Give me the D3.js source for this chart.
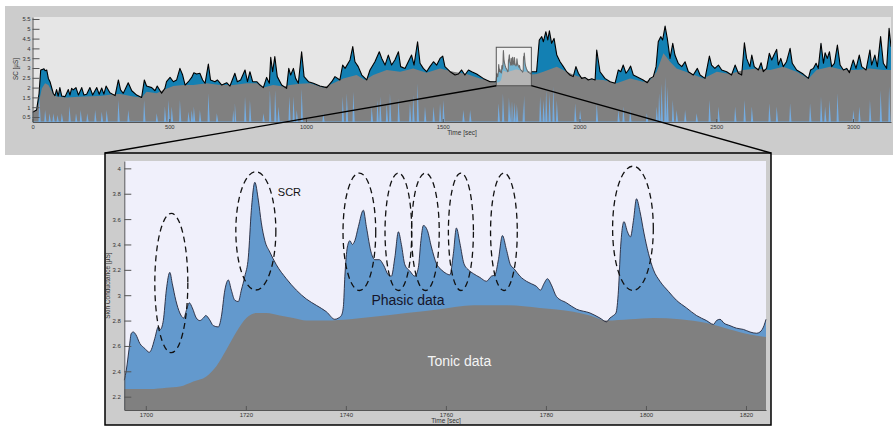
<!DOCTYPE html>
<html><head><meta charset="utf-8">
<script src="https://cdn.jsdelivr.net/npm/d3@7/dist/d3.min.js"></script>
<style>body{margin:0;background:#fff;} svg{display:block;font-family:"Liberation Sans",Arial,sans-serif;}</style>
</head><body><svg id="c" width="893" height="426"></svg>
<script>
// ---------- DATA ----------
// Overview: total skin conductance [time sec, µS]
const ovTotal = [[0,0.74],[15,0.86],[24,1.7],[30,2.9],[37,2.93],[42,2.96],[46,2.86],[52,2.9],[58,2.47],[64,2.3],[76,1.7],[82,1.59],[88,1.9],[94,1.57],[100,2.0],[107,1.57],[119,1.54],[131,1.9],[137,1.62],[143,1.96],[149,1.88],[159,2.0],[168,1.62],[180,2.0],[188,1.62],[198,1.66],[210,2.0],[220,1.62],[235,2.0],[244,1.66],[253,1.98],[261,1.67],[269,2.08],[283,1.74],[302,1.59],[314,2.39],[322,1.88],[332,1.71],[350,2.25],[363,1.84],[381,1.62],[399,1.5],[409,2.39],[417,2.08],[436,2.0],[448,1.84],[456,2.08],[472,1.71],[484,1.96],[490,2.3],[503,2.52],[515,2.3],[527,2.39],[539,2.98],[549,2.64],[558,2.13],[570,2.3],[582,2.52],[590,2.76],[600,2.69],[612,2.73],[622,2.39],[631,2.22],[643,3.2],[651,2.39],[667,2.3],[676,2.39],[692,2.13],[710,2.25],[722,2.08],[740,2.73],[749,2.3],[761,2.39],[777,2.9],[786,2.3],[795,2.81],[805,2.3],[820,2.3],[832,2.13],[844,2.0],[856,2.52],[866,2.22],[871,3.54],[878,2.81],[886,3.58],[895,2.56],[911,2.13],[929,1.96],[937,2.98],[944,2.64],[954,2.98],[962,2.47],[972,2.22],[984,3.83],[993,2.56],[1009,2.3],[1027,2.22],[1051,2.08],[1076,2.0],[1094,2.3],[1106,2.56],[1124,2.39],[1134,3.15],[1143,2.98],[1161,3.41],[1171,4.09],[1179,3.32],[1191,3.07],[1204,2.64],[1222,2.39],[1234,2.9],[1252,3.32],[1268,3.83],[1277,3.49],[1289,3.15],[1301,3.66],[1313,3.15],[1325,3.41],[1338,3.83],[1346,3.07],[1362,2.98],[1374,3.32],[1386,3.66],[1395,3.15],[1408,4.34],[1417,3.24],[1429,2.98],[1441,2.81],[1453,3.07],[1466,3.32],[1478,3.15],[1490,3.49],[1500,3.61],[1508,3.07],[1527,2.81],[1545,2.64],[1557,2.69],[1569,2.9],[1581,2.64],[1594,2.9],[1606,2.81],[1624,2.69],[1648,2.47],[1673,2.3],[1691,2.3],
[1843,2.81],[1853,4.43],[1862,4.6],[1868,4.34],[1877,4.85],[1884,4.43],[1890,4.9],[1898,4.26],[1907,4.51],[1917,3.66],[1929,3.32],[1941,3.07],[1953,2.81],[1965,2.64],[1977,2.56],[1987,3.07],[1996,2.73],[2008,2.47],[2020,2.52],[2032,2.39],[2045,2.45],[2057,2.39],[2063,3.92],[2075,2.81],[2093,2.47],[2112,2.3],[2130,2.22],[2142,2.9],[2151,2.81],[2160,3.15],[2170,2.73],[2179,2.9],[2187,3.1],[2197,2.64],[2215,2.52],[2233,2.39],[2248,2.25],[2258,2.47],[2270,2.56],[2280,3.07],[2288,4.34],[2297,4.6],[2304,4.43],[2313,5.14],[2321,4.51],[2331,3.49],[2341,4.26],[2349,3.66],[2361,3.24],[2374,3.07],[2386,3.32],[2398,2.81],[2416,2.64],[2431,2.98],[2441,2.64],[2459,2.47],[2475,3.61],[2483,3.15],[2495,2.98],[2508,3.15],[2520,2.9],[2538,2.81],[2556,2.64],[2569,3.15],[2581,2.73],[2593,2.64],[2603,4.29],[2611,3.49],[2623,3.07],[2630,3.66],[2639,3.07],[2654,2.9],[2664,3.27],[2672,2.81],[2684,2.98],[2694,3.75],[2703,3.41],[2711,3.66],[2721,3.95],[2727,3.15],[2736,3.49],[2745,3.07],[2757,3.32],[2770,4.0],[2778,3.24],[2794,2.9],[2818,2.69],[2837,2.47],[2845,2.9],[2855,2.98],[2865,3.24],[2873,2.98],[2883,4.26],[2892,3.24],[2898,3.78],[2906,3.49],[2914,3.83],[2922,3.07],[2932,3.24],[2943,4.17],[2953,3.15],[2965,2.9],[2977,2.98],[2987,2.76],[3001,3.41],[3011,2.98],[3023,3.66],[3032,3.07],[3048,2.9],[3062,3.92],[3068,3.15],[3080,3.66],[3089,3.07],[3101,4.6],[3111,3.24],[3123,2.98],[3132,5.02],[3139,4.09]];

// Overview: tonic level
const ovTonic = [[0,0.74],[15,0.85],[25,1.37],[34,1.96],[46,2.22],[58,2.13],[76,1.67],[88,1.54],[125,1.49],[186,1.54],[247,1.57],[296,1.66],[320,1.67],[369,1.54],[399,1.49],[417,1.79],[454,1.71],[478,1.88],[515,2.08],[552,2.13],[588,2.13],[637,2.22],[686,2.13],[734,2.13],[783,2.22],[820,2.22],[844,2.0],[880,2.13],[917,2.05],[941,2.13],[978,2.2],[1015,2.22],[1063,2.0],[1100,2.22],[1136,2.47],[1185,2.64],[1216,2.39],[1246,2.64],[1295,2.9],[1344,2.81],[1392,2.98],[1441,2.76],[1490,2.98],[1539,2.81],[1587,2.69],[1636,2.47],[1685,2.3],
[1843,2.7],[1868,2.81],[1917,3.07],[1953,2.81],[1990,2.59],[2038,2.42],[2087,2.39],[2136,2.22],[2185,2.47],[2233,2.3],[2258,2.39],[2282,2.81],[2307,3.75],[2331,3.32],[2355,2.98],[2404,2.73],[2453,2.47],[2502,2.81],[2550,2.69],[2599,2.9],[2648,2.98],[2697,2.9],[2745,3.07],[2794,2.81],[2837,2.45],[2867,2.9],[2916,3.07],[2965,2.9],[3013,2.9],[3062,2.98],[3111,2.9],[3146,2.9]];

// Overview: phasic driver peaks [time, height]
const ovDriver = [[25,1.54],[46,0.86],[62,0.69],[76,0.69],[91,0.6],[107,0.69],[135,1.06],[159,0.69],[176,0.86],[200,0.69],[229,0.86],[253,0.77],[271,0.86],[314,1.37],[350,0.86],[408,1.37],[454,0.69],[484,1.03],[497,1.37],[509,1.03],[539,1.37],[570,0.77],[582,0.86],[590,1.03],[612,0.86],[643,1.71],[674,0.69],[734,0.86],[740,1.2],[777,1.54],[795,1.37],[844,0.69],[868,1.88],[887,1.88],[899,1.03],[939,1.54],[954,1.54],[966,0.86],[984,1.96],[1063,0.69],[1134,1.54],[1149,1.71],[1173,1.79],[1240,1.03],[1261,1.37],[1271,1.54],[1295,1.2],[1307,1.71],[1338,1.45],[1380,1.2],[1392,1.62],[1408,2.22],[1435,1.03],[1466,1.03],[1490,1.2],[1502,1.37],[1575,0.86],[1600,0.86],[1704,1.2],[1720,1.7],[1742,1.5],[1750,1.3],[1755,1.3],[1762,1.25],[1771,1.15],[1795,1.4],[1798,1.6],[1856,1.54],[1868,1.37],[1878,1.88],[1890,1.71],[1904,2.05],[1917,1.37],[1984,1.2],[2002,0.86],[2063,1.2],[2142,0.86],[2160,1.03],[2185,0.86],[2246,0.69],[2282,1.03],[2291,1.71],[2300,2.22],[2313,2.56],[2321,2.05],[2341,1.37],[2355,0.86],[2386,0.86],[2428,0.69],[2475,1.37],[2508,1.03],[2569,1.03],[2603,1.37],[2630,1.03],[2694,1.2],[2721,1.03],[2770,1.2],[2843,1.2],[2883,1.54],[2898,1.03],[2914,1.37],[2943,1.71],[3001,0.86],[3023,1.03],[3062,1.37],[3101,1.88],[3132,2.05]];

// Zoomed window 1695.7–1824 s: total SC
const zoomTotal = [[1695.7,2.33],[1696.1,2.41],[1696.7,2.59],[1697.1,2.70],[1697.5,2.71],[1698,2.69],[1698.8,2.62],[1699.8,2.58],[1700.7,2.55],[1701.1,2.57],[1701.8,2.66],[1702.5,2.75],[1702.9,2.73],[1703.5,2.80],[1704.1,3.04],[1704.8,3.18],[1705.3,3.09],[1706,2.96],[1706.8,2.86],[1707.6,2.82],[1708.1,2.88],[1708.7,2.94],[1709.3,2.90],[1710.1,2.82],[1710.8,2.80],[1711.5,2.82],[1712,2.84],[1712.7,2.81],[1713.5,2.76],[1714.5,2.75],[1715.1,2.83],[1715.8,3.04],[1716.5,3.12],[1717.1,3.04],[1717.8,2.96],[1718.5,2.95],[1719.1,3.04],[1719.8,3.15],[1720.5,3.30],[1721.1,3.67],[1721.8,3.89],[1722.5,3.75],[1723.1,3.57],[1723.8,3.43],[1724.8,3.34],[1726.1,3.24],[1728.1,3.13],[1730.1,3.04],[1732.1,2.97],[1734.1,2.92],[1736.1,2.87],[1737.8,2.81],[1738.5,2.82],[1739.1,2.84],[1739.5,2.91],[1739.8,3.15],[1740.3,3.38],[1740.8,3.43],[1741.3,3.40],[1741.8,3.43],[1742.5,3.54],[1743.5,3.67],[1744.1,3.54],[1745.1,3.33],[1745.8,3.28],[1746.7,3.28],[1747.5,3.24],[1748.5,3.16],[1749.1,3.15],[1749.8,3.30],[1750.5,3.50],[1751.1,3.40],[1751.8,3.24],[1752.8,3.19],[1753.8,3.15],[1754.5,3.22],[1755,3.43],[1755.5,3.55],[1756.3,3.51],[1757.1,3.38],[1758.1,3.25],[1759.1,3.20],[1760.1,3.17],[1760.8,3.16],[1761.5,3.33],[1762.1,3.53],[1762.8,3.41],[1763.6,3.25],[1764.5,3.20],[1765.5,3.17],[1766.8,3.14],[1768.1,3.11],[1769.1,3.15],[1769.8,3.16],[1770.5,3.28],[1771.3,3.47],[1772.1,3.36],[1772.9,3.24],[1773.6,3.21],[1774.8,3.15],[1776.1,3.11],[1777.1,3.09],[1778.1,3.07],[1778.9,3.04],[1779.6,3.09],[1780.3,3.13],[1781.1,3.08],[1782.1,2.99],[1784.1,2.94],[1786.1,2.89],[1788.8,2.86],[1790.8,2.82],[1792.1,2.79],[1792.8,2.82],[1793.5,2.84],[1794,2.86],[1794.5,3.04],[1794.9,3.36],[1795.6,3.58],[1796.3,3.50],[1796.9,3.46],[1797.5,3.59],[1798.1,3.76],[1798.8,3.66],[1799.6,3.49],[1800.5,3.33],[1801.5,3.20],[1802.8,3.11],[1804.5,3.03],[1806.1,2.96],[1808.1,2.90],[1810.1,2.84],[1812.1,2.80],[1813.5,2.77],[1814.1,2.80],[1814.8,2.81],[1815.6,2.78],[1816.8,2.76],[1818.1,2.74],[1819.5,2.73],[1820.8,2.71],[1822.1,2.70],[1822.8,2.71],[1823.6,2.76],[1824,2.81]];

// Zoomed window: tonic level
const zoomTonic = [[1695.7,2.26],[1700.8,2.26],[1704.1,2.27],[1706.8,2.28],[1709.5,2.32],[1712.1,2.36],[1714.1,2.44],[1716.1,2.57],[1718.1,2.71],[1720.1,2.82],[1722.1,2.86],[1724.1,2.86],[1726.8,2.84],[1729.5,2.82],[1732.1,2.80],[1736.1,2.80],[1740.8,2.81],[1745.5,2.83],[1752.1,2.86],[1758.8,2.89],[1765.5,2.92],[1772.1,2.92],[1778.8,2.90],[1785.5,2.87],[1788.8,2.84],[1792.1,2.80],[1796.8,2.81],[1801.5,2.82],[1806.8,2.81],[1812.1,2.78],[1816.8,2.73],[1820.8,2.69],[1824,2.67]];

// SCR annotations: [centre time, centre µS, half-width sec, half-height µS]
const scrMarks = [[1705.1,3.096,3.3,0.549],[1722,3.507,4.0,0.466],[1742.7,3.50,3.27,0.463],[1750.5,3.50,2.67,0.463],[1755.9,3.50,2.77,0.463],[1763,3.50,2.5,0.463],[1771.6,3.50,2.67,0.463],[1797.4,3.527,4.07,0.49]];

const ovXTicks = [0,500,1000,1500,2000,2500,3000];
const ovYTicks = [0.5,1,1.5,2,2.5,3,3.5,4,4.5,5,5.5];
const zXTicks = [1700,1720,1740,1760,1780,1800,1820];
const zYTicks = [2.2,2.4,2.6,2.8,3,3.2,3.4,3.6,3.8,4];
const zoomWindow = [1695.7,1824];
const zoomRange = [2.095,4.058];
const labels = [{text:"SCR",t:1726.4,v:3.78,size:11,fill:"#111"},{text:"Phasic data",t:1745.1,v:2.92,size:14,fill:"#15152a"},{text:"Tonic data",t:1756.3,v:2.44,size:14,fill:"#f4f4f4"}];

// ---------- DRAW ----------
const svg = d3.select("#c");

// Top panel
svg.append("rect").attr("x",5).attr("y",6).attr("width",888).attr("height",149).attr("fill","#cccccc");
const tx = d3.scaleLinear().domain([0,3139]).range([32.5,891]);
const ty = d3.scaleLinear().domain([0.245,5.602]).range([122,17]);
svg.append("rect").attr("x",tx.range()[0]).attr("y",ty.range()[1]).attr("width",tx.range()[1]-tx.range()[0]).attr("height",ty.range()[0]-ty.range()[1]).attr("fill","#e6e6e6");
const defs = svg.append("defs");
defs.append("clipPath").attr("id","clipTop").append("rect").attr("x",tx.range()[0]).attr("y",ty.range()[1]).attr("width",tx.range()[1]-tx.range()[0]).attr("height",ty.range()[0]-ty.range()[1]);

const inWin = d=>d[0]>=zoomWindow[0]&&d[0]<=zoomWindow[1];
const allTotal = ovTotal.filter(d=>!inWin(d)).concat(zoomTotal).sort((a,b)=>a[0]-b[0]);
const allTonic = ovTonic.filter(d=>!inWin(d)).concat(zoomTonic).sort((a,b)=>a[0]-b[0]);
const base = ty.domain()[0];
let drv = [[0,base+0.03]];
ovDriver.forEach(d=>{drv.push([d[0]-3,base+0.03],[d[0],d[1]],[d[0]+5,base+0.03]);});
drv.push([3146,base+0.03]);
drv.sort((a,b)=>a[0]-b[0]);

const gTop = svg.append("g").attr("clip-path","url(#clipTop)");
const aTop = d3.area().x(d=>tx(d[0])).y0(ty(base)).y1(d=>ty(d[1]));
gTop.append("path").datum(allTotal).attr("d",aTop).attr("fill","#1380b3");
gTop.append("path").datum(allTonic).attr("d",aTop).attr("fill","#808080");
gTop.append("path").datum(drv).attr("d",aTop).attr("fill","#72b4f2").attr("opacity",0.85);
gTop.append("path").datum(allTotal).attr("d",d3.line().x(d=>tx(d[0])).y(d=>ty(d[1]))).attr("fill","none").attr("stroke","#000").attr("stroke-width",1.1).attr("stroke-linejoin","round");
// highlight box
gTop.append("rect").attr("x",tx(zoomWindow[0])).attr("y",ty(zoomRange[1])).attr("width",tx(zoomWindow[1])-tx(zoomWindow[0])).attr("height",ty(zoomRange[0])-ty(zoomRange[1])).attr("fill","#fff").attr("fill-opacity",0.42).attr("stroke","#555").attr("stroke-width",1);

// top axes
const fmt = d=>String(d);
const yAxT = svg.append("g").attr("transform",`translate(${tx.range()[0]},0)`).call(d3.axisLeft(ty).tickValues(ovYTicks).tickFormat(fmt).tickSizeInner(-7).tickSizeOuter(0).tickPadding(2));
const xAxT = svg.append("g").attr("transform",`translate(0,${ty.range()[0]})`).call(d3.axisBottom(tx).tickValues(ovXTicks).tickFormat(fmt).tickSizeInner(-3).tickSizeOuter(0).tickPadding(3));
[yAxT,xAxT].forEach(g=>{g.selectAll("text").attr("font-size",5.8).attr("fill","#333").attr("font-family","Liberation Sans, Arial, sans-serif");g.selectAll("line,path").attr("stroke","#555");});
svg.append("text").attr("x",462).attr("y",135).attr("text-anchor","middle").attr("font-size",6.5).attr("fill","#333").text("Time [sec]");
svg.append("text").attr("transform","translate(18,69) rotate(-90)").attr("text-anchor","middle").attr("font-size",6.3).attr("fill","#333").text("SC [µS]");

// Bottom panel
const frame = {x:105,y:153,w:666,h:272};
svg.append("rect").attr("x",frame.x).attr("y",frame.y).attr("width",frame.w).attr("height",frame.h).attr("fill","#cccccc").attr("stroke","#000").attr("stroke-width",1.5);
const dx = d3.scaleLinear().domain(zoomWindow).range([124.3,766]);
const dy = d3.scaleLinear().domain(zoomRange).range([410,161]);
svg.append("rect").attr("x",dx.range()[0]).attr("y",dy.range()[1]).attr("width",dx.range()[1]-dx.range()[0]).attr("height",dy.range()[0]-dy.range()[1]).attr("fill","#f0f0fb");
const aZ = d3.area().curve(d3.curveMonotoneX).x(d=>dx(d[0])).y0(dy(zoomRange[0])).y1(d=>dy(d[1]));
svg.append("path").datum(zoomTotal).attr("d",aZ).attr("fill","#6399cd");
svg.append("path").datum(zoomTonic).attr("d",aZ).attr("fill","#808080");
svg.append("path").datum(zoomTotal).attr("d",d3.line().curve(d3.curveMonotoneX).x(d=>dx(d[0])).y(d=>dy(d[1]))).attr("fill","none").attr("stroke","#22263a").attr("stroke-width",0.9);

// ellipses
svg.selectAll("ellipse.scr").data(scrMarks).join("ellipse").attr("class","scr")
  .attr("cx",d=>dx(d[0])).attr("cy",d=>dy(d[1]))
  .attr("rx",d=>dx(d[0]+d[2])-dx(d[0])).attr("ry",d=>dy(d[1]-d[3])-dy(d[1]))
  .attr("fill","none").attr("stroke","#111").attr("stroke-width",1.3).attr("stroke-dasharray","6,4");

// labels
svg.selectAll("text.lab").data(labels).join("text").attr("class","lab")
  .attr("x",d=>dx(d.t)).attr("y",d=>dy(d.v)).attr("font-size",d=>d.size).attr("fill",d=>d.fill).text(d=>d.text);

// bottom axes
const yAxB = svg.append("g").attr("transform",`translate(${dx.range()[0]},0)`).call(d3.axisLeft(dy).tickValues(zYTicks).tickFormat(fmt).tickSizeInner(-7).tickSizeOuter(0).tickPadding(3.5));
const xAxB = svg.append("g").attr("transform",`translate(0,${dy.range()[0]})`).call(d3.axisBottom(dx).tickValues(zXTicks).tickFormat(fmt).tickSizeInner(-4).tickSizeOuter(0).tickPadding(2.5));
[yAxB,xAxB].forEach(g=>{g.selectAll("text").attr("font-size",6).attr("fill","#333").attr("font-family","Liberation Sans, Arial, sans-serif");g.selectAll("line,path").attr("stroke","#555");});
svg.append("text").attr("x",446).attr("y",423).attr("text-anchor","middle").attr("font-size",6.5).attr("fill","#333").text("Time [sec]");
svg.append("text").attr("transform",`translate(109.5,${(dy.range()[0]+dy.range()[1])/2}) rotate(-90)`).attr("text-anchor","middle").attr("font-size",6.5).attr("fill","#333").text("Skin Conductance [µS]");

// connector lines from highlight box to zoom panel
const bx0 = tx(zoomWindow[0]), bx1 = tx(zoomWindow[1]), by = ty(zoomRange[0]);
svg.append("line").attr("x1",bx0).attr("y1",by).attr("x2",frame.x).attr("y2",frame.y).attr("stroke","#000").attr("stroke-width",1.3);
svg.append("line").attr("x1",bx1).attr("y1",by).attr("x2",frame.x+frame.w).attr("y2",frame.y).attr("stroke","#000").attr("stroke-width",1.3);
</script></body></html>
